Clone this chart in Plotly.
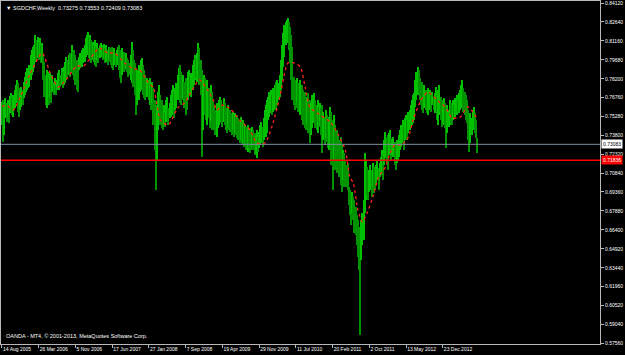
import plotly.graph_objects as go
import pandas as pd

# ---------------- data ----------------
start_date = "2005-08-14"

high = [
0.7639,0.7654,0.7615,0.7670,0.7631,0.7654,0.7623,0.7686,0.7709,0.7678,
0.7694,0.7733,0.7772,0.7811,0.7787,0.7748,0.7717,0.7756,0.7733,0.7795,
0.7834,0.7873,0.7904,0.7889,0.7928,0.8006,0.8045,0.8068,0.8084,0.8162,
0.8123,0.8146,0.8107,0.8139,0.8084,0.8100,0.8006,0.7951,0.7850,0.7889,
0.7873,0.7826,0.7865,0.7811,0.7850,0.7795,0.7826,0.7772,0.7811,0.7865,
0.7889,0.7850,0.7904,0.7873,0.7912,0.7951,0.7990,0.7967,0.8006,0.8021,
0.7982,0.8084,0.8029,0.8045,0.8006,0.7967,0.7951,0.7990,0.8021,0.8006,
0.8045,0.8060,0.8084,0.8139,0.8162,0.8186,0.8146,0.8162,0.8123,0.8107,
0.8084,0.8123,0.8068,0.8100,0.8060,0.8084,0.8100,0.8084,0.8068,0.8092,
0.8060,0.8084,0.8045,0.8068,0.8060,0.8045,0.8068,0.8029,0.8060,0.8021,
0.8045,0.8068,0.8084,0.8045,0.8021,0.8060,0.8029,0.8006,0.8021,0.7982,
0.7967,0.7943,0.8006,0.8107,0.8045,0.7967,0.7943,0.7904,0.7889,0.7928,
0.7865,0.7967,0.7982,0.7928,0.7889,0.7850,0.7826,0.7811,0.7787,0.7826,
0.7772,0.7795,0.7748,0.7654,0.7576,0.7615,0.7717,0.7772,0.7694,0.7654,
0.7576,0.7615,0.7560,0.7654,0.7678,0.7592,0.7631,0.7694,0.7733,0.7772,
0.7717,0.7748,0.7787,0.7850,0.7904,0.7928,0.7873,0.7811,0.7850,0.7795,
0.7826,0.7772,0.7873,0.7889,0.7834,0.7865,0.7928,0.7967,0.8006,0.7982,
0.8021,0.8100,0.8060,0.7967,0.7889,0.7811,0.7850,0.7826,0.7772,0.7811,
0.7748,0.7733,0.7772,0.7717,0.7654,0.7615,0.7576,0.7631,0.7600,0.7654,
0.7678,0.7654,0.7615,0.7670,0.7631,0.7592,0.7560,0.7615,0.7576,0.7576,
0.7553,0.7560,0.7537,0.7553,0.7521,0.7537,0.7514,0.7498,0.7521,0.7482,
0.7498,0.7474,0.7459,0.7443,0.7459,0.7420,0.7435,0.7404,0.7443,0.7420,
0.7396,0.7381,0.7420,0.7365,0.7404,0.7459,0.7482,0.7443,0.7514,0.7576,
0.7615,0.7654,0.7678,0.7717,0.7733,0.7694,0.7748,0.7733,0.7772,0.7795,
0.7811,0.7787,0.7850,0.7967,0.8084,0.8178,0.8240,0.8264,0.8279,0.8295,
0.8264,0.8225,0.8162,0.8068,0.7834,0.7811,0.7772,0.7826,0.7787,0.7756,
0.7811,0.7772,0.7733,0.7694,0.7717,0.7654,0.7678,0.7709,0.7654,0.7631,
0.7694,0.7670,0.7709,0.7654,0.7615,0.7654,0.7600,0.7631,0.7592,0.7615,
0.7560,0.7521,0.7576,0.7537,0.7498,0.7521,0.7600,0.7560,0.7498,0.7537,
0.7459,0.7396,0.7420,0.7381,0.7342,0.7365,0.7303,0.7264,0.7240,0.7186,
0.7147,0.7162,0.6975,0.6952,0.6912,0.6936,0.6897,0.6873,0.6818,0.6756,
0.6717,0.6662,0.6639,0.6717,0.6772,0.6873,0.7240,0.7186,0.7131,0.7069,
0.7108,0.7147,0.7108,0.7162,0.7131,0.7084,0.7147,0.7186,0.7123,0.7162,
0.7209,0.7264,0.7225,0.7342,0.7404,0.7365,0.7381,0.7396,0.7420,0.7357,
0.7342,0.7365,0.7326,0.7303,0.7342,0.7318,0.7381,0.7420,0.7459,0.7498,
0.7443,0.7514,0.7537,0.7498,0.7560,0.7576,0.7615,0.7654,0.7694,0.7709,
0.7811,0.7873,0.7912,0.7889,0.7826,0.7772,0.7795,0.7748,0.7772,0.7733,
0.7694,0.7748,0.7717,0.7733,0.7694,0.7717,0.7678,0.7709,0.7756,0.7694,
0.7733,0.7772,0.7678,0.7654,0.7631,0.7670,0.7631,0.7592,0.7615,0.7576,
0.7654,0.7631,0.7592,0.7654,0.7615,0.7670,0.7694,0.7654,0.7709,0.7733,
0.7772,0.7811,0.7748,0.7717,0.7694,0.7654,0.7576,0.7521,0.7553,0.7514,
0.7576,0.7600,0.7553,0.7498,0.7355]

low = [
0.7459,0.7326,0.7381,0.7514,0.7482,0.7521,0.7474,0.7553,0.7576,0.7537,
0.7521,0.7592,0.7631,0.7654,0.7560,0.7521,0.7576,0.7600,0.7615,0.7670,
0.7694,0.7717,0.7733,0.7748,0.7756,0.7811,0.7850,0.7873,0.7904,0.7951,
0.7967,0.7982,0.7967,0.7990,0.7943,0.7951,0.7811,0.7678,0.7615,0.7592,
0.7654,0.7615,0.7670,0.7631,0.7717,0.7694,0.7709,0.7694,0.7733,0.7748,
0.7733,0.7756,0.7772,0.7748,0.7772,0.7787,0.7811,0.7826,0.7850,0.7834,
0.7865,0.7889,0.7850,0.7811,0.7772,0.7733,0.7717,0.7889,0.7904,0.7928,
0.7912,0.7943,0.7951,0.7990,0.8006,0.8021,0.7982,0.7967,0.7943,0.7967,
0.7951,0.7928,0.7912,0.7967,0.7943,0.7982,0.7990,0.8006,0.7967,0.7982,
0.7943,0.7951,0.7928,0.7967,0.7951,0.7928,0.7904,0.7889,0.7928,0.7912,
0.7943,0.7928,0.7889,0.7826,0.7787,0.7850,0.7873,0.7889,0.7904,0.7873,
0.7834,0.7850,0.7811,0.7787,0.7756,0.7772,0.7694,0.7537,0.7615,0.7654,
0.7717,0.7748,0.7733,0.7694,0.7670,0.7654,0.7678,0.7694,0.7654,0.7615,
0.7576,0.7631,0.7459,0.7264,0.6952,0.7186,0.7420,0.7482,0.7459,0.7435,
0.7420,0.7459,0.7443,0.7482,0.7498,0.7459,0.7514,0.7521,0.7537,0.7560,
0.7514,0.7576,0.7592,0.7654,0.7678,0.7631,0.7615,0.7654,0.7670,0.7592,
0.7537,0.7576,0.7654,0.7694,0.7709,0.7678,0.7733,0.7772,0.7811,0.7826,
0.7795,0.7850,0.7772,0.7694,0.7209,0.7420,0.7576,0.7537,0.7498,0.7459,
0.7514,0.7435,0.7482,0.7420,0.7459,0.7420,0.7381,0.7365,0.7435,0.7459,
0.7498,0.7474,0.7443,0.7482,0.7459,0.7420,0.7396,0.7435,0.7420,0.7404,
0.7381,0.7420,0.7365,0.7396,0.7381,0.7357,0.7342,0.7318,0.7342,0.7303,
0.7318,0.7287,0.7303,0.7264,0.7248,0.7279,0.7240,0.7264,0.7287,0.7264,
0.7225,0.7240,0.7201,0.7248,0.7279,0.7303,0.7318,0.7287,0.7342,0.7381,
0.7365,0.7396,0.7498,0.7521,0.7553,0.7537,0.7560,0.7576,0.7600,0.7576,
0.7615,0.7654,0.7678,0.7733,0.7811,0.7912,0.7990,0.8084,0.8100,0.8123,
0.8045,0.7943,0.7811,0.7654,0.7615,0.7576,0.7592,0.7631,0.7560,0.7576,
0.7537,0.7498,0.7459,0.7482,0.7435,0.7420,0.7459,0.7396,0.7318,0.7381,
0.7435,0.7498,0.7474,0.7435,0.7420,0.7396,0.7443,0.7459,0.7381,0.7240,
0.7342,0.7303,0.7357,0.7326,0.7279,0.7264,0.7279,0.7147,0.6952,0.7186,
0.7108,0.7147,0.7084,0.7108,0.7053,0.6991,0.6936,0.7030,0.6975,0.7006,
0.6975,0.6952,0.6834,0.6756,0.6678,0.6772,0.6717,0.6615,0.6600,0.6522,
0.6428,0.6327,0.5819,0.6405,0.6522,0.6561,0.6772,0.6873,0.6912,0.6873,
0.6936,0.6952,0.6897,0.6975,0.6928,0.6952,0.6991,0.7030,0.6952,0.7053,
0.7069,0.7108,0.7030,0.7147,0.7201,0.7162,0.7108,0.7225,0.7264,0.7186,
0.7225,0.7209,0.7147,0.7108,0.7162,0.7186,0.7209,0.7264,0.7287,0.7318,
0.7264,0.7342,0.7365,0.7342,0.7396,0.7420,0.7443,0.7459,0.7474,0.7498,
0.7600,0.7654,0.7694,0.7709,0.7654,0.7615,0.7576,0.7553,0.7592,0.7576,
0.7553,0.7537,0.7576,0.7592,0.7560,0.7615,0.7576,0.7553,0.7576,0.7498,
0.7459,0.7537,0.7498,0.7443,0.7474,0.7459,0.7435,0.7279,0.7396,0.7443,
0.7459,0.7474,0.7459,0.7498,0.7514,0.7521,0.7537,0.7560,0.7553,0.7576,
0.7592,0.7600,0.7560,0.7537,0.7498,0.7474,0.7342,0.7248,0.7318,0.7381,
0.7420,0.7443,0.7396,0.7357,0.7241]

# moving average (red dotted), read at selected weeks
ma_week = [0,5,10,16,24,35,42,49,57,65,71,85,92,98,107,113,120,127,132,138,
           145,153,159,172,179,184,187,192,199,207,216,222,229,235,242,249,255,
           260,264,268,277,286,293,299,303,306,310,314,318,323,328,334,338,342,
           348,354,358,365,371,379,386,392,399,406,414]
ma_val = [0.7607,0.7607,0.7576,0.7678,0.7850,0.8021,0.7865,0.7756,0.7826,0.7920,
          0.7920,0.8060,0.8021,0.8021,0.7943,0.7904,0.7889,0.7795,0.7748,0.7498,
          0.7459,0.7592,0.7631,0.7811,0.7733,0.7654,0.7576,0.7615,0.7584,0.7498,
          0.7420,0.7318,0.7318,0.7443,0.7678,0.7943,0.7943,0.7912,0.7756,0.7600,
          0.7537,0.7482,0.7381,0.7264,0.7053,0.7006,0.6795,0.6701,0.6772,0.6897,
          0.7053,0.7131,0.7240,0.7303,0.7303,0.7365,0.7498,0.7654,0.7717,0.7654,
          0.7600,0.7514,0.7521,0.7600,0.7506]

bid_price = 0.73083
level_price = 0.71836

y_tick_labels = ["0.84120","0.82640","0.81160","0.79680","0.78200","0.76760",
                 "0.75280","0.73800","0.72320","0.70840","0.69360","0.67880",
                 "0.66400","0.64920","0.63440","0.61960","0.60520","0.59040",
                 "0.57560"]
x_tick_labels = ["14 Aug 2005","26 Mar 2006","5 Nov 2006","17 Jun 2007",
                 "27 Jan 2008","7 Sep 2008","19 Apr 2009","29 Nov 2009",
                 "11 Jul 2010","20 Feb 2011","2 Oct 2011","13 May 2012",
                 "23 Dec 2012"]

title_text = "SGDCHF,Weekly  0.73275 0.73553 0.72409 0.73083"
copyright_text = "OANDA - MT4, \u00a9 2001-2013, MetaQuotes Software Corp."

# ---------------- figure ----------------
n = min(len(high), len(low))
high, low = high[:n], low[:n]
start = pd.Timestamp(start_date)
dates = pd.date_range(start, periods=n, freq="7D")
ma_dates = [start + pd.Timedelta(weeks=w) for w in ma_week]

mids = [(h + l) / 2 for h, l in zip(high, low)]
colors = ["#00c000" if i == 0 or mids[i] >= mids[i - 1] else "#009400" for i in range(n)]

fig = go.Figure()
fig.add_trace(go.Bar(
    x=dates, y=[h - l for h, l in zip(high, low)], base=low,
    width=7.0 * 86400000, marker=dict(color=colors, line=dict(width=0)),
    hoverinfo="skip", showlegend=False))
fig.add_trace(go.Scatter(
    x=ma_dates, y=ma_val, mode="lines",
    line=dict(color="#ff2020", width=1.3, dash="dot", shape="spline", smoothing=0.6),
    hoverinfo="skip", showlegend=False))

fig.add_shape(type="line", xref="paper", x0=0, x1=1, yref="y", y0=bid_price, y1=bid_price,
              line=dict(color="#7f8fa0", width=1))
fig.add_shape(type="line", xref="paper", x0=0, x1=1, yref="y", y0=level_price, y1=level_price,
              line=dict(color="#ff0000", width=1.5))

font_family = "Liberation Sans, Arial, sans-serif"
axis_color = "#b8b8b8"

fig.update_layout(
    width=625, height=355,
    margin=dict(l=1, r=25, t=1, b=11, pad=0, autoexpand=False),
    paper_bgcolor="#000000", plot_bgcolor="#000000",
    bargap=0,
    font=dict(family=font_family, color="#ffffff", size=5),
    xaxis=dict(
        type="date",
        range=[start - pd.Timedelta(days=6), start + pd.Timedelta(days=3646)],
        showgrid=False, zeroline=False,
        showline=True, linecolor=axis_color, linewidth=1, mirror=True,
        ticks="outside", ticklen=3, tickcolor=axis_color, tickwidth=1,
        tickvals=pd.to_datetime(x_tick_labels, format="%d %b %Y"),
        ticktext=x_tick_labels, tickangle=0, automargin=False,
        ticklabelposition="outside right", ticklabeloverflow="allow",
        tickfont=dict(size=5, color="#ffffff", family=font_family),
        fixedrange=True,
    ),
    yaxis=dict(
        side="right",
        range=[0.57488, 0.84276],
        showgrid=False, zeroline=False,
        showline=True, linecolor=axis_color, linewidth=1, mirror=True,
        ticks="outside", ticklen=3, tickcolor=axis_color, tickwidth=1,
        tickvals=[float(t) for t in y_tick_labels],
        ticktext=y_tick_labels, automargin=False, ticklabeloverflow="allow",
        tickfont=dict(size=5, color="#ffffff", family=font_family),
        fixedrange=True,
    ),
)

fig.add_annotation(xref="paper", yref="paper", x=0, y=1, xanchor="left", yanchor="top",
                   xshift=3, yshift=-2, showarrow=False,
                   text="\u25bc " + title_text,
                   font=dict(size=5.5, color="#ffffff", family=font_family))
fig.add_annotation(xref="paper", yref="paper", x=0, y=0, xanchor="left", yanchor="bottom",
                   xshift=3, yshift=3, showarrow=False, text=copyright_text,
                   font=dict(size=5.5, color="#ffffff", family=font_family))
fig.add_annotation(xref="paper", yref="y", x=1, y=bid_price, xanchor="left", yanchor="middle",
                   xshift=1, showarrow=False, text="0.73083", bgcolor="#ffffff",
                   borderpad=1, font=dict(size=5, color="#000000", family=font_family))
fig.add_annotation(xref="paper", yref="y", x=1, y=level_price, xanchor="left", yanchor="middle",
                   xshift=1, showarrow=False, text="0.71836", bgcolor="#ff0000",
                   borderpad=1, font=dict(size=5, color="#ffffff", family=font_family))

fig.write_html("out.html")
